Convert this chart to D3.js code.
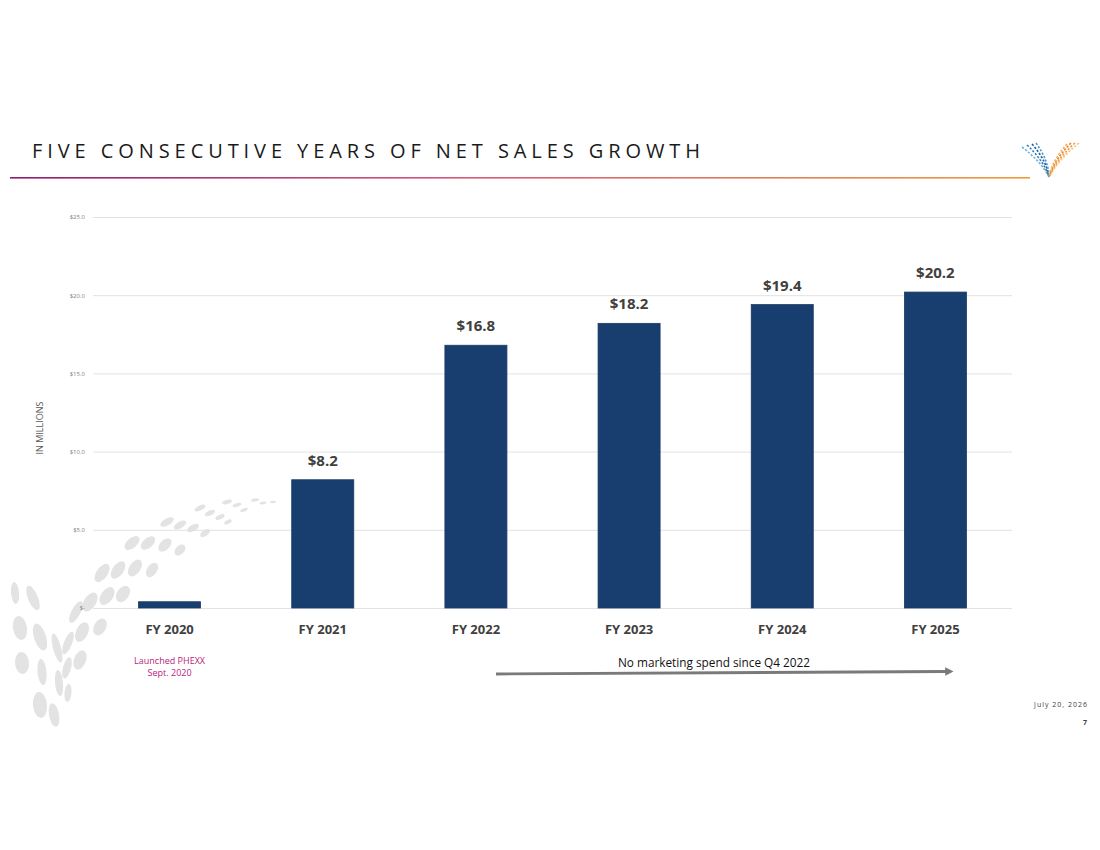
<!DOCTYPE html>
<html>
<head>
<meta charset="utf-8">
<script src="https://cdn.jsdelivr.net/npm/d3@7"></script>
<style>
  html, body { margin: 0; padding: 0; background: #fff; }
  svg { display: block; font-family: "Open Sans", "Noto Sans", sans-serif; }
</style>
</head>
<body>
<div id="chart"></div>
<script>
// chart values
var categories = ["FY 2020", "FY 2021", "FY 2022", "FY 2023", "FY 2024", "FY 2025"];
var netSales = [0.4, 8.2, 16.8, 18.2, 19.4, 20.2];
var valueLabels = ["", "$8.2", "$16.8", "$18.2", "$19.4", "$20.2"];
var yTicks = [0, 5, 10, 15, 20, 25];
var yTickLabels = ["$-", "$5.0", "$10.0", "$15.0", "$20.0", "$25.0"];

var titleText = "FIVE CONSECUTIVE YEARS OF NET SALES GROWTH";
var yTitle = "IN MILLIONS";
var noteLines = ["Launched PHEXX", "Sept. 2020"];
var arrowNote = "No marketing spend since Q4 2022";
var dateText = "July 20, 2026";
var pageNo = "7";

var W = 1100, H = 850;
var margin = { top: 217, right: 88, bottom: 242, left: 93 };
var width = W - margin.left - margin.right;
var height = H - margin.top - margin.bottom;

var svg = d3.select("#chart").append("svg")
    .attr("width", W)
    .attr("height", H);

var defs = svg.append("defs");

// background swoosh of grey ellipses, bottom left (decoration only)
// [cx, cy, rx, ry, rotation]
var swoosh = [
    // right arm, rows curving up to the right
    [255, 500, 4, 1.5, -10], [263, 503, 3.5, 1.3, -10], [273, 502, 3, 1.2, -5],
    [227, 502, 5, 2, -15], [237, 505, 4.5, 1.8, -15], [244, 510, 4, 1.6, -20],
    [200, 508, 6, 2.5, -25], [210, 513, 5.5, 2.4, -25], [220, 517, 5, 2.2, -25], [228, 522, 4, 2, -25],
    [167, 522, 7.5, 3.5, -30], [180, 525, 7, 3.3, -30], [193, 528, 6.5, 3.2, -30], [205, 533, 5.5, 3, -35],
    [132, 543, 9, 5, -40], [148, 543, 8.5, 5, -40], [165, 545, 8, 4.8, -45], [180, 550, 6.5, 4.3, -45],
    [102, 573, 10.5, 5.5, -55], [118, 570, 10, 5.5, -55], [135, 568, 9.5, 5.5, -55], [152, 570, 8, 5, -55],
    [76, 612, 12, 4.5, -62], [90, 602, 10.5, 6, -58], [107, 596, 10, 6, -55], [123, 594, 9, 6, -55],
    [68, 643, 12, 4, -68], [82, 632, 10.5, 6, -65], [100, 627, 9, 6, -60],
    [67, 668, 11, 4, -75], [80, 660, 10, 6, -70],
    [68, 693, 9, 3.5, -85],
    // left arm
    [15, 593, 11, 4, 85], [33, 598, 13, 5, 68], [20, 628, 12, 7, 80], [40, 637, 14, 6, 72],
    [57, 648, 15, 4, 75], [22, 663, 11, 7, 85], [42, 672, 13, 4.5, 85], [59, 683, 13, 4, 85],
    [40, 705, 13, 7, 85], [54, 715, 12, 5, 80]
];
svg.append("g")
    .selectAll("ellipse")
    .data(swoosh)
    .join("ellipse")
    .attr("cx", function (d) { return d[0]; })
    .attr("cy", function (d) { return d[1]; })
    .attr("rx", function (d) { return d[2]; })
    .attr("ry", function (d) { return d[3]; })
    .attr("transform", function (d) { return "rotate(" + d[4] + "," + d[0] + "," + d[1] + ")"; })
    .attr("fill", "#e3e3e3");

// title and gradient rule
svg.append("text")
    .attr("x", 32)
    .attr("y", 158)
    .attr("textLength", 668)
    .attr("lengthAdjust", "spacing")
    .style("font-size", "20px")
    .style("fill", "#1a1a1a")
    .text(titleText);

var grad = defs.append("linearGradient")
    .attr("id", "rule")
    .attr("x1", "0%").attr("x2", "100%");
grad.append("stop").attr("offset", "0%").attr("stop-color", "#8c1c6c");
grad.append("stop").attr("offset", "45%").attr("stop-color", "#d65a79");
grad.append("stop").attr("offset", "100%").attr("stop-color", "#ee9b3b");

svg.append("rect")
    .attr("x", 10).attr("y", 177)
    .attr("width", 1020).attr("height", 1.6)
    .attr("fill", "url(#rule)");

// small V logo, top right (dashed strokes)
var logo = svg.append("g").attr("fill", "none").attr("stroke-width", 1.6)
    .attr("stroke-dasharray", "2.2,1.6");
var logoLeft = [[1022, 147, "#6fb0d8"], [1027, 145, "#2f7fbf"], [1032, 144, "#1f5f9a"], [1036, 143, "#4a9acb"]];
var logoRight = [[1079, 143, "#f6c27a"], [1075, 143, "#ef9a3a"], [1071, 143, "#e5802c"], [1067, 144, "#f2b060"]];
logoLeft.concat(logoRight).forEach(function (p) {
    logo.append("path")
        .attr("d", "M" + p[0] + "," + p[1] + " Q" + ((p[0] + 1049) / 2 + (p[0] < 1049 ? 6 : -6)) + "," + ((p[1] + 177) / 2) + " 1049,177")
        .attr("stroke", p[2]);
});

// scales
var x = d3.scaleBand()
    .domain(categories)
    .range([0, width])
    .paddingInner(0.595)
    .paddingOuter(0.2975);

var y = d3.scaleLinear()
    .domain([0, 25])
    .range([height, 0]);

var g = svg.append("g")
    .attr("transform", "translate(" + margin.left + "," + margin.top + ")");

// gridlines + y labels via axis
var yAxis = g.append("g")
    .call(d3.axisLeft(y)
        .tickValues(yTicks)
        .tickSize(-width)
        .tickPadding(8)
        .tickFormat(function (d, i) { return yTickLabels[i]; }));
yAxis.select(".domain").remove();
yAxis.selectAll(".tick line").attr("stroke", "#e2e2e2").attr("stroke-width", 1);
yAxis.selectAll(".tick text")
    .style("font-size", "6px")
    .style("fill", "#808080")
    .style("font-family", "Open Sans, sans-serif");

// bars
g.selectAll("rect.bar")
    .data(netSales)
    .join("rect")
    .attr("class", "bar")
    .attr("x", function (d, i) { return x(categories[i]); })
    .attr("width", x.bandwidth())
    .attr("y", function (d) { return y(d); })
    .attr("height", function (d) { return height - y(d); })
    .attr("fill", "#173e6f")
    .attr("stroke", "#1d3a63")
    .attr("stroke-width", 0.8);

// value labels
g.selectAll("text.val")
    .data(netSales)
    .join("text")
    .attr("class", "val")
    .attr("x", function (d, i) { return x(categories[i]) + x.bandwidth() / 2; })
    .attr("y", function (d) { return y(d) - 14; })
    .attr("text-anchor", "middle")
    .style("font-size", "15px")
    .style("font-weight", "700")
    .style("fill", "#404040")
    .text(function (d, i) { return valueLabels[i]; });

// category axis
var xAxis = g.append("g")
    .attr("transform", "translate(0," + height + ")")
    .call(d3.axisBottom(x).tickSize(0).tickPadding(17));
xAxis.select(".domain").remove();
xAxis.selectAll(".tick text")
    .style("font-size", "13px")
    .style("font-weight", "700")
    .style("fill", "#404040")
    .style("font-family", "Open Sans, sans-serif");

// y title
svg.append("text")
    .attr("transform", "translate(43,428) rotate(-90)")
    .attr("text-anchor", "middle")
    .style("font-size", "9px")
    .style("fill", "#595959")
    .text(yTitle);

// launch note under FY 2020
var noteX = margin.left + x(categories[0]) + x.bandwidth() / 2;
svg.append("g").selectAll("text")
    .data(noteLines)
    .join("text")
    .attr("x", noteX)
    .attr("y", function (d, i) { return 664 + i * 12; })
    .attr("text-anchor", "middle")
    .style("font-size", "9px")
    .style("fill", "#b8237c")
    .text(function (d) { return d; });

// arrow note
defs.append("marker")
    .attr("id", "head")
    .attr("viewBox", "0 0 10 10")
    .attr("refX", 1).attr("refY", 5)
    .attr("markerWidth", 3.6).attr("markerHeight", 3)
    .attr("orient", "auto")
    .append("path")
    .attr("d", "M0,0 L10,5 L0,10 z")
    .attr("fill", "#7a7a7a");

svg.append("line")
    .attr("x1", 496).attr("y1", 674)
    .attr("x2", 946).attr("y2", 671.5)
    .attr("stroke", "#7a7a7a")
    .attr("stroke-width", 2.8)
    .attr("marker-end", "url(#head)");

svg.append("text")
    .attr("x", 714)
    .attr("y", 667)
    .attr("text-anchor", "middle")
    .attr("textLength", 192)
    .attr("lengthAdjust", "spacingAndGlyphs")
    .style("font-size", "12px")
    .style("fill", "#111")
    .text(arrowNote);

// footer
svg.append("text")
    .attr("x", 1088).attr("y", 707)
    .attr("text-anchor", "end")
    .style("font-size", "7px")
    .style("letter-spacing", "1px")
    .style("fill", "#404040")
    .text(dateText);

svg.append("text")
    .attr("x", 1087).attr("y", 725)
    .attr("text-anchor", "end")
    .style("font-size", "7px")
    .style("font-weight", "700")
    .style("fill", "#404040")
    .text(pageNo);
</script>
</body>
</html>
